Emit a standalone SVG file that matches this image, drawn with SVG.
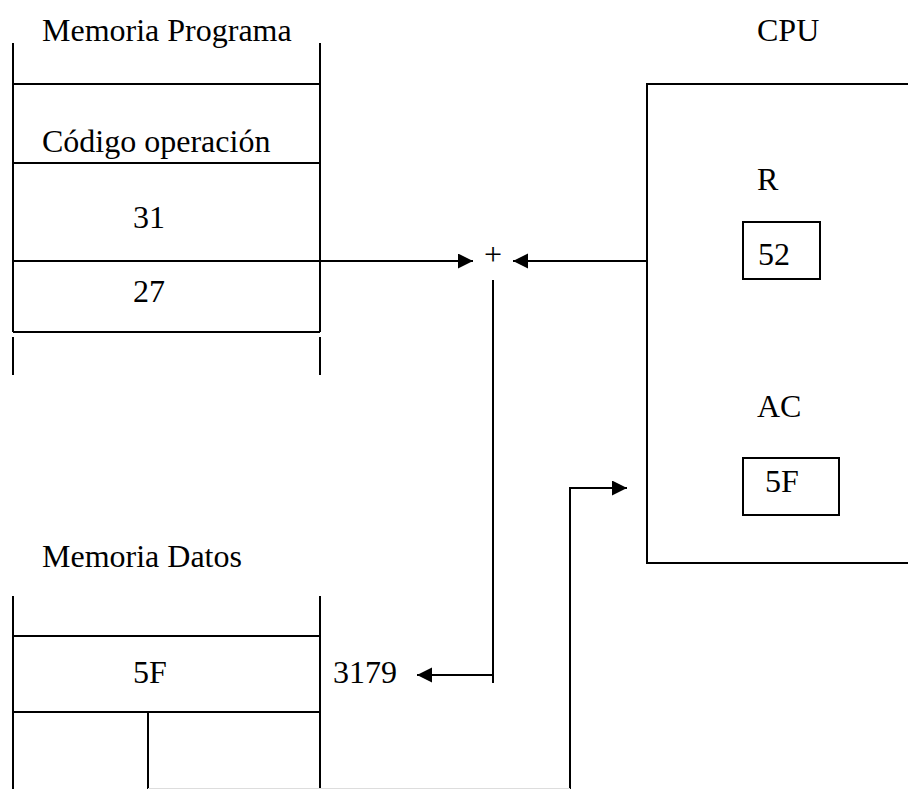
<svg xmlns="http://www.w3.org/2000/svg" width="908" height="789" viewBox="0 0 908 789">
<style>
.ln{stroke:#000;stroke-width:2;fill:none}
text{font-family:'Liberation Serif','Times New Roman',serif;font-size:32px;fill:#000}
.m{text-anchor:middle}
</style>
<defs>
<marker id="ah" markerUnits="userSpaceOnUse" markerWidth="16" markerHeight="16" refX="15" refY="7.5" orient="auto">
<path d="M0,0 L15,7.5 L0,15 z" fill="#000"/>
</marker>
</defs>
<rect width="908" height="789" fill="#fff"/>
<g id="memoria-programa">
<text x="42" y="41">Memoria Programa</text>
<path class="ln" d="M13,43 V332 M13,337 V375 M320,43 V332 M320,337 V375 M13,84 H320 M13,163 H320 M13,261 H320 M13,332 H320"/>
<text x="42" y="152">Código operación</text>
<text class="m" x="149" y="228">31</text>
<text class="m" x="149" y="302">27</text>
</g>
<g id="cpu">
<text x="757" y="41">CPU</text>
<rect class="ln" x="647" y="84" width="300" height="479"/>
<text x="757" y="190">R</text>
<rect class="ln" x="743" y="222" width="77" height="57"/>
<text x="758" y="265">52</text>
<text x="757" y="417">AC</text>
<rect class="ln" x="743" y="458" width="96" height="57"/>
<text x="765" y="492">5F</text>
</g>
<g id="sumador">
<text class="m" x="493" y="265" font-size="28">+</text>
</g>
<g id="memoria-datos">
<text x="42" y="567">Memoria Datos</text>
<path class="ln" d="M13,596 V789 M320,596 V789 M13,636 H320 M13,712 H320 M148,712 V789"/>
<text class="m" x="150" y="683">5F</text>
<text x="333" y="683">3179</text>
</g>
<g id="connectors">
<line class="ln" x1="320" y1="261" x2="473" y2="261" marker-end="url(#ah)"/>
<line class="ln" x1="647" y1="261" x2="513" y2="261" marker-end="url(#ah)"/>
<path class="ln" d="M493,280 V683"/>
<line class="ln" x1="493" y1="675" x2="417" y2="675" marker-end="url(#ah)"/>
<path class="ln" d="M570,789 V488 H627" marker-end="url(#ah)"/>
<line x1="148" y1="788.5" x2="570" y2="788.5" stroke="#ddd" stroke-width="1"/>
</g>
</svg>
